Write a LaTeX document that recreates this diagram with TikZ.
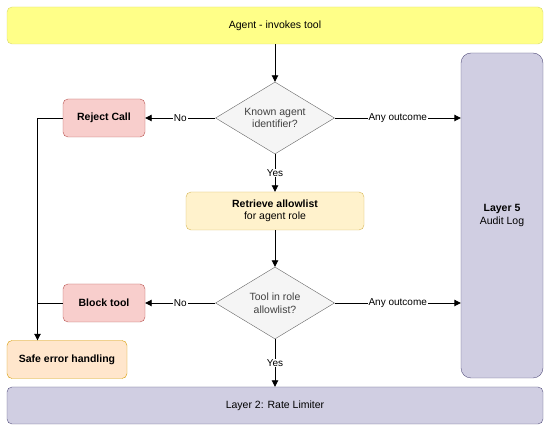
\documentclass[tikz,border=0pt]{standalone}
\usepackage{fontspec}
\setmainfont{Liberation Sans}
\usepackage{xcolor}
\usetikzlibrary{arrows.meta,positioning,shapes.geometric}
\definecolor{Lemon}{HTML}{FFFF88}
\definecolor{LemonLine}{HTML}{D8D86A}
\definecolor{Cream}{HTML}{FFF2CC}
\definecolor{CreamLine}{HTML}{D6B656}
\definecolor{Peach}{HTML}{FFE6CC}
\definecolor{PeachLine}{HTML}{D79B00}
\definecolor{Rose}{HTML}{F8CECC}
\definecolor{RoseLine}{HTML}{B85450}
\definecolor{Lilac}{HTML}{D0CEE2}
\definecolor{LilacLine}{HTML}{56517E}
\definecolor{Mist}{HTML}{F5F5F5}
\definecolor{MistLine}{HTML}{666666}

\begin{document}
\begin{tikzpicture}[x=1pt,y=-1pt,
  font=\fontsize{10.5}{12.5}\selectfont,
  box/.style={draw,rounded corners=5pt,align=center,inner sep=0pt},
  decision/.style={diamond,draw=MistLine,fill=Mist,aspect=1.7,inner sep=0pt,
    minimum width=119pt,minimum height=72pt,align=center,text=black!75},
  arr/.style={-{Triangle[length=6.5pt,width=6.5pt]},line width=0.9pt},
  lbl/.style={fill=white,inner sep=1pt,font=\fontsize{10}{11}\selectfont}]
\useasboundingbox (0,0) rectangle (550,430);
\node[box,draw=LemonLine,fill=Lemon,minimum width=536pt,minimum height=37pt] (agent) at (275,25.5) {Agent - invokes tool};
\node[decision] (known) at (275,118) {Known agent\\identifier?};
\node[box,draw=RoseLine,fill=Rose,minimum width=82pt,minimum height=38pt,font=\fontsize{10.5}{12.5}\selectfont\bfseries] (reject) at (104,118) {Reject Call};
\node[box,draw=CreamLine,fill=Cream,minimum width=178pt,minimum height=38pt] (allow) at (275,211) {\textbf{Retrieve allowlist}\\for agent role};
\node[decision] (inrole) at (275,303) {Tool in role\\allowlist?};
\node[box,draw=RoseLine,fill=Rose,minimum width=82pt,minimum height=38pt,font=\fontsize{10.5}{12.5}\selectfont\bfseries] (block) at (104,303) {Block tool};
\node[box,draw=PeachLine,fill=Peach,minimum width=120pt,minimum height=38pt,font=\fontsize{10.5}{12.5}\selectfont\bfseries] (safe) at (67,359.5) {Safe error handling};
\node[box,rounded corners=10pt,draw=LilacLine,fill=Lilac,minimum width=82pt,minimum height=325pt] (audit) at (502,215.5) {\textbf{Layer 5}\\Audit Log};
\node[box,draw=LilacLine,fill=Lilac,minimum width=536pt,minimum height=37pt] (rate) at (275,405.5) {Layer 2: Rate Limiter};
\coordinate (rail) at (37.5,118);
% flow
\draw[arr] (agent) -- (known);
\draw[arr] (known) -- node[lbl]{No} (reject);
\draw[arr] (known.east) -- node[lbl]{Any outcome} (known.east -| audit.west);
\draw[arr] (known) -- node[lbl]{Yes} (allow);
\draw[arr] (allow) -- (inrole);
\draw[arr] (inrole) -- node[lbl]{No} (block);
\draw[arr] (inrole.east) -- node[lbl]{Any outcome} (inrole.east -| audit.west);
\draw[arr] (inrole) -- node[lbl]{Yes} (rate);
% error path
\draw[arr] (reject.west) -- (rail) -- (rail |- safe.north);
\draw[line width=0.9pt] (block.west) -- (block.west -| rail);
\end{tikzpicture}
\end{document}
